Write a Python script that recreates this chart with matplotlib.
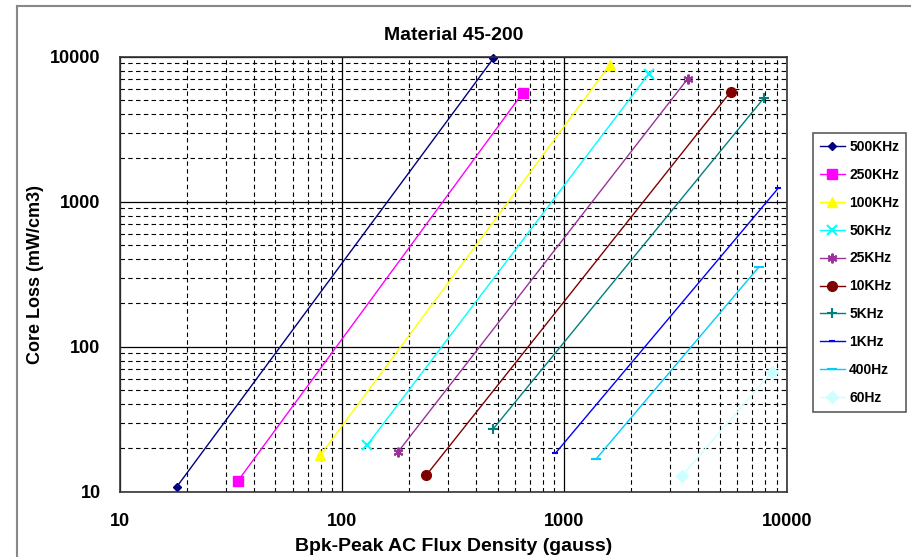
import matplotlib
matplotlib.use("Agg")
import matplotlib.pyplot as plt
from matplotlib.lines import Line2D
from matplotlib.ticker import LogLocator, FixedLocator, NullFormatter

plt.rcParams['font.family'] = ['Liberation Sans', 'DejaVu Sans']

series = ["500KHz", "250KHz", "100KHz", "50KHz", "25KHz", "10KHz", "5KHz", "1KHz", "400Hz", "60Hz"]
flux = [
    [18.0, 479],
    [33.9, 650],
    [79.8, 1598],
    [129.6, 2393],
    [178.7, 3586],
    [238.9, 5600],
    [476, 7880],
    [910, 9150],
    [1392, 7510],
    [3381, 8550],
]
loss = [
    [10.8, 9750],
    [11.85, 5645],
    [17.9, 8770],
    [21.0, 7600],
    [18.9, 7050],
    [13.0, 5740],
    [26.9, 5170],
    [18.4, 1237],
    [16.9, 356],
    [12.9, 66.6],
]
colors = ["#000080", "#FF00FF", "#FFFF00", "#00FFFF", "#993399", "#800000",
          "#008080", "#0000FF", "#00CCFF", "#CCFFFF"]
markers = ["D", "s", "^", "x", (6, 2, 0), "o", "+", "_", "_", "D"]
msizes = [4.5, 7, 7, 7, 7, 7, 7, 5, 7, 6]
xticks = [10, 100, 1000, 10000]
yticks = [10, 100, 1000, 10000]

fig = plt.figure(figsize=(9.12, 5.57), dpi=100)
ax = fig.add_axes([120/912, 1-491.7/557, (786.7-120)/912, (491.7-56.7)/557])

for i, name in enumerate(series):
    thick = markers[i] in ("x", "+", "_") or isinstance(markers[i], tuple)
    ax.plot(flux[i], loss[i], color=colors[i], lw=1.0, marker=markers[i],
            ms=msizes[i], mew=1.5 if thick else 1.0,
            label=name, clip_on=False)

ax.set_xscale('log')
ax.set_yscale('log')
ax.set_xlim(10, 10000)
ax.set_ylim(10, 10000)
ax.xaxis.set_major_locator(FixedLocator(xticks))
ax.yaxis.set_major_locator(FixedLocator(yticks))
ax.set_xticklabels([str(v) for v in xticks])
ax.set_yticklabels([str(v) for v in yticks])
ax.xaxis.set_minor_locator(LogLocator(base=10, subs=range(2, 10)))
ax.yaxis.set_minor_locator(LogLocator(base=10, subs=range(2, 10)))
ax.xaxis.set_minor_formatter(NullFormatter())
ax.yaxis.set_minor_formatter(NullFormatter())
ax.grid(True, which='major', color='#000000', lw=0.9, ls='-')
ax.grid(True, which='minor', color='#000000', lw=0.8, ls=(0, (4, 3)))
ax.set_axisbelow(True)
ax.tick_params(which='both', length=0)
ax.tick_params(axis='x', pad=15, labelsize=13)
ax.tick_params(axis='y', pad=14, labelsize=13)
for lab in ax.get_xticklabels() + ax.get_yticklabels():
    lab.set_fontweight('bold')
for sp in ax.spines.values():
    sp.set_color('#333333')
    sp.set_linewidth(1.2)

ax.set_title("Material 45-200", fontsize=14, fontweight='bold', pad=12)
ax.set_xlabel("Bpk-Peak AC Flux Density (gauss)", fontsize=14, fontweight='bold', labelpad=6)
ax.set_ylabel("Core Loss (mW/cm3)", fontsize=13, fontweight='bold')
ax.yaxis.set_label_coords(-(120-44)/(786.7-120), 0.5)

leg = fig.legend(loc='upper left', bbox_to_anchor=(813/912, 1-133/557), frameon=True,
                 fancybox=False, edgecolor='#333333', fontsize=10, labelspacing=1.0,
                 handlelength=1.8, borderpad=0.5, borderaxespad=0, handletextpad=0.3)
leg.get_frame().set_linewidth(1.2)
for t in leg.get_texts():
    t.set_fontweight('bold')

fig.add_artist(Line2D([17/912, 17/912], [0, 1-6/557], color='#888888', lw=1.5))
fig.add_artist(Line2D([17/912, 1], [1-6/557, 1-6/557], color='#888888', lw=1.5))

fig.savefig("out.png", dpi=100)
